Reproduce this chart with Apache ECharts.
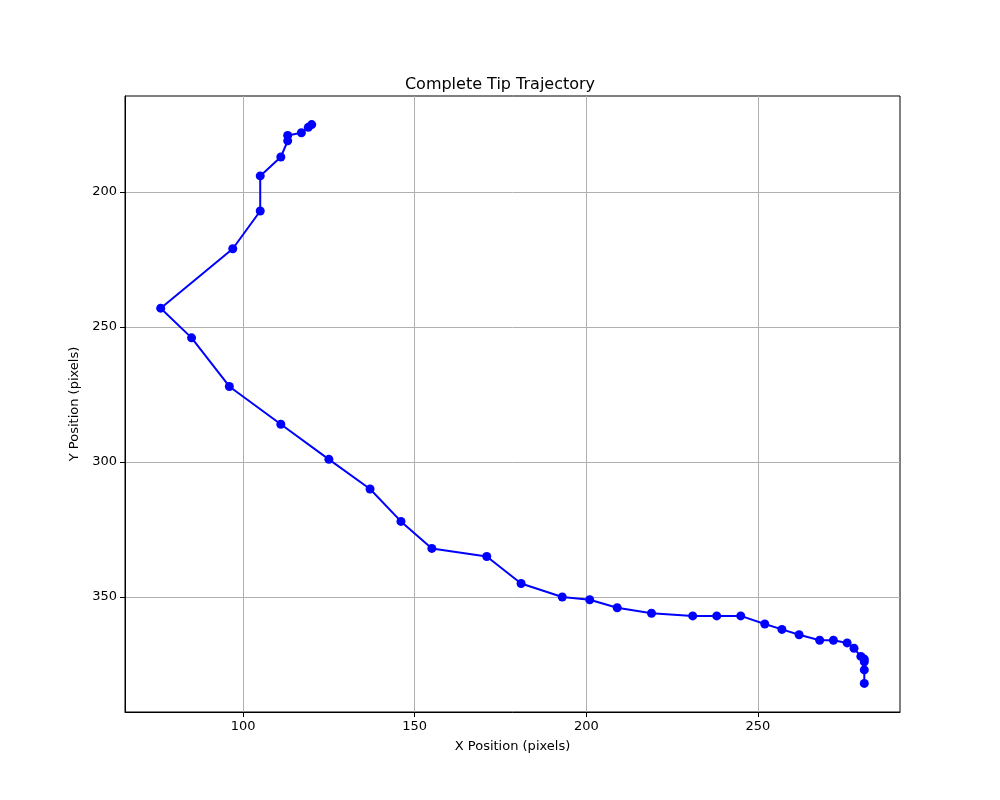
<!DOCTYPE html>
<html>
<head>
<meta charset="utf-8">
<script src="https://cdn.jsdelivr.net/npm/echarts@6/dist/echarts.min.js"></script>
<style>html,body{margin:0;background:#fff}#c{width:1000px;height:800px}</style>
</head>
<body>
<div id="c"></div>
<script>
// tip positions, in pixels, in the order they were tracked
var xs = [120, 119, 117, 113, 113, 111, 105, 105, 97, 76, 85, 96, 111, 125, 137, 146, 155, 171, 181, 193, 201, 209, 219, 231, 238, 245, 252, 257, 262, 268, 272, 276, 278, 280, 281, 281, 281, 281]
var ys = [175, 176, 178, 179, 181, 187, 194, 207, 221, 243, 254, 272, 286, 299, 310, 322, 332, 335, 345, 350, 351, 354, 356, 357, 357, 357, 360, 362, 364, 366, 366, 367, 369, 372, 373, 374, 377, 382]
var xTicks = [100, 150, 200, 250]
var yTicks = [200, 250, 300, 350]

var pts = []
for (let i = 0; i < xs.length; i++) {
  pts.push([xs[i], ys[i]])
}

var font = 'DejaVu Sans'
var chart = echarts.init(document.getElementById('c'))
var axisCommon = {
  axisLine: {show: true, onZero: false, lineStyle: {color: '#000'}},
  axisLabel: {color: '#000', fontSize: 13, fontFamily: font},
  axisTick: {show: true, length: 5, lineStyle: {color: '#000'}},
  splitLine: {show: true, lineStyle: {color: '#b0b0b0', width: 1}},
  nameLocation: 'middle',
  nameTextStyle: {color: '#000', fontSize: 13, fontFamily: font}
}
chart.setOption({
  animation: false,
  title: {
    text: 'Complete Tip Trajectory', left: 'center', top: 72,
    textStyle: {fontSize: 16, fontWeight: 'normal', color: '#000', fontFamily: font}
  },
  grid: {left: 125, right: 100, top: 96, bottom: 88, show: true, borderColor: '#000', borderWidth: 1},
  xAxis: Object.assign({}, axisCommon, {
    type: 'value', min: 65.6, max: 291.4,
    name: 'X Position (pixels)', nameGap: 28,
    axisLabel: Object.assign({}, axisCommon.axisLabel, {customValues: xTicks}),
    axisTick: Object.assign({}, axisCommon.axisTick, {customValues: xTicks})
  }),
  yAxis: Object.assign({}, axisCommon, {
    type: 'value', min: 164.4, max: 392.6, inverse: true,
    name: 'Y Position (pixels)', nameGap: 42,
    axisLabel: Object.assign({}, axisCommon.axisLabel, {customValues: yTicks}),
    axisTick: Object.assign({}, axisCommon.axisTick, {customValues: yTicks})
  }),
  series: [{
    type: 'line',
    data: pts,
    symbol: 'circle',
    symbolSize: 9,
    itemStyle: {color: '#0000ff'},
    lineStyle: {color: '#0000ff', width: 2}
  }]
})
</script>
</body>
</html>
